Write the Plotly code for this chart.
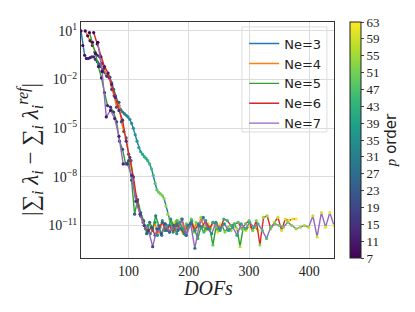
import plotly.graph_objects as go

# ---- data (log10 of error), p order from 7 to 63 ----
p_order = list(range(7, 64))
ne_values = [3, 4, 5, 6, 7]

log_err_ne3 = [1.0, 0.1, -0.5, -0.7, -0.7, -0.65, -0.6, -0.6, -0.75, -0.9,
               -1.05, -1.2, -1.4, -1.55, -1.7, -1.8, -1.85, -2.2, -2.6, -3.0,
               -3.35, -3.6, -3.85, -4.0, -4.1, -4.2, -4.3, -4.45, -4.7, -5.0,
               -5.4, -5.8, -6.2, -6.45, -6.6, -6.75, -6.85, -7.0, -7.2, -7.5,
               -7.9, -8.4, -8.8, -8.95, -9.05, -9.15, -9.35, -9.8, -10.3, -10.6,
               -10.9, -11.3, -10.8, -11.2, -10.7, -11.0, -11.4]
log_err_ne4 = [1.0, 0.7, 0.4, 0.1, -0.3, -0.5, -0.6, -1.0, -1.3, -1.8,
               -1.9, -2.6, -3.0, -3.7, -3.4, -4.6, -5.2, -5.6, -6.6, -7.0,
               -8.4, -9.2, -9.8, -10.4, -10.8, -11.2, -11.0, -11.5, -11.3, -10.8,
               -11.6, -11.1, -10.7, -11.3, -11.0, -11.4, -10.9, -11.2, -10.7, -11.1,
               -10.6, -11.3, -10.9, -11.0, -10.6, -11.4, -10.8, -11.1, -10.5, -11.0,
               -11.3, -10.9, -11.2, -10.8, -11.0, -11.4, -10.9]
log_err_ne5 = [0.9, 0.3, -0.4, -1.2, -1.9, -2.8, -3.6, -3.7, -4.0, -4.6,
               -5.8, -6.3, -7.2, -7.0, -8.2, -10.3, -9.4, -10.2, -10.7, -11.5,
               -10.8, -11.2, -10.4, -11.0, -11.6, -10.9, -11.3, -10.6, -11.1, -11.5,
               -10.8, -11.2, -11.6, -11.0, -10.7, -11.3, -11.8, -11.1, -11.4, -11.0,
               -11.2, -12.2, -11.1, -11.3, -11.0, -11.4, -11.1, -11.3, -10.9, -11.2,
               -12.3, -11.2, -11.3, -11.0, -11.2, -11.1, -11.3]
log_err_ne6 = [0.9, 0.2, -0.6, -1.2, -1.6, -2.3, -3.1, -3.9, -4.5, -5.8,
               -6.8, -8.0, -9.5, -10.4, -11.0, -11.4, -11.1, -11.6, -11.2, -10.8,
               -11.3, -11.0, -11.4, -10.9, -11.2, -11.5, -11.0, -10.8, -11.3, -10.9,
               -11.1, -10.7, -11.2, -10.8, -10.9, -11.3, -10.6, -10.7, -11.0, -10.9,
               -10.8, -11.2, -10.9, -10.7, -11.3, -10.7, -12.2, -10.5, -10.4, -11.2,
               -10.8, -10.5, -11.3, -10.6, -10.7, -10.6, -10.6]
log_err_ne7 = [0.3, -1.5, -4.3, -3.9, -4.4, -5.5, -7.2, -7.2, -7.9, -9.5,
               -10.3, -11.0, -11.3, -12.3, -11.2, -11.5, -10.9, -11.4, -11.0, -11.3,
               -10.6, -11.6, -10.9, -12.4, -11.0, -10.5, -11.2, -11.5, -10.8, -11.2,
               -10.9, -11.3, -11.1, -11.6, -10.9, -11.2, -10.8, -11.1, -10.9, -11.3,
               -11.8, -11.1, -10.9, -11.0, -11.1, -10.8, -11.0, -11.2, -11.1, -11.0,
               -11.1, -10.4, -11.7, -10.2, -11.1, -10.2, -11.0]

series = [log_err_ne3, log_err_ne4, log_err_ne5, log_err_ne6, log_err_ne7]
line_colors = ["#1f77b4", "#ff7f0e", "#2ca02c", "#d62728", "#9467bd"]

y_tickvals = [1e1, 1e-2, 1e-5, 1e-8, 1e-11]
y_ticktext = ["10<sup>1</sup>", "10<sup>\u22122</sup>", "10<sup>\u22125</sup>",
              "10<sup>\u22128</sup>", "10<sup>\u221211</sup>"]
x_tickvals = [100, 200, 300, 400]
cbar_ticks = list(range(7, 64, 4))

SERIF = "Liberation Serif"
SANS = "DejaVu Sans"

fig = go.Figure()
for ne, logs, col in zip(ne_values, series, line_colors):
    dofs = [ne * p for p in p_order]
    vals = [10 ** v for v in logs]
    fig.add_trace(go.Scatter(x=dofs, y=vals, mode="lines", name=f"Ne={ne}",
                             line=dict(color=col, width=1.4)))
    fig.add_trace(go.Scatter(x=dofs, y=vals, mode="markers", showlegend=False,
                             marker=dict(size=3.2, color=p_order, colorscale="Viridis",
                                         cmin=7, cmax=63, line=dict(width=0),
                                         showscale=(ne == 3),
                                         colorbar=dict(
                                             x=1.063, xanchor="left", y=0.5, yanchor="middle",
                                             len=1.0, lenmode="fraction", thickness=11,
                                             xpad=0, ypad=0,
                                             outlinewidth=1, outlinecolor="#222",
                                             tickvals=cbar_ticks, ticks="outside", ticklen=3,
                                             tickfont=dict(family=SERIF, size=13, color="#222"),
                                             title=dict(text="<span style='font-family:Liberation Serif;font-style:italic'>p</span> order",
                                                        side="right",
                                                        font=dict(family=SANS, size=15, color="#222")),
                                         ))))

# page body adds an 8px offset; the figure is sized so the plot area lands at page px 81-334 x 22-258
fig.update_layout(
    width=407, height=304,
    margin=dict(l=73, r=81, t=14, b=54, autoexpand=False),
    plot_bgcolor="white", paper_bgcolor="white",
    showlegend=True,
    legend=dict(x=0.645, y=0.972, xanchor="left", yanchor="top",
                bgcolor="rgba(0,0,0,0)", borderwidth=0,
                font=dict(family=SANS, size=13, color="#222"), tracegroupgap=0,
                itemwidth=30),
)
fig.add_shape(type="rect", xref="paper", yref="paper", x0=0.636, x1=0.972, y0=0.534, y1=0.979,
              fillcolor="rgba(255,255,255,0.85)", line=dict(color="#dddddd", width=1), layer="between")

fig.update_xaxes(range=[21, 441], tickvals=x_tickvals, showgrid=True, gridcolor="#dcdcdc",
                 gridwidth=1, showline=True, linecolor="#333", linewidth=1, mirror=True,
                 ticks="", tickfont=dict(family=SERIF, size=14, color="#222"), zeroline=False)
fig.update_yaxes(type="log", range=[-13.0, 1.55], tickvals=y_tickvals, ticktext=y_ticktext,
                 showgrid=True, gridcolor="#dcdcdc", gridwidth=1, showline=True,
                 linecolor="#333", linewidth=1, mirror=True, ticks="",
                 tickfont=dict(family=SERIF, size=14, color="#222"))

fig.add_annotation(text="<i>DOFs</i>", xref="paper", yref="paper", x=0.5, y=-0.127,
                   xanchor="center", yanchor="middle", showarrow=False,
                   font=dict(family=SERIF, size=20, color="#222"))
fig.add_annotation(text="|\u2211<sub><i>i</i></sub> <i>\u03bb<sub>i</sub></i> \u2212 \u2211<sub><i>i</i></sub> <i>\u03bb<sub>i</sub><sup>ref</sup></i>|",
                   xref="paper", yref="paper", x=-0.2016, y=0.462, xanchor="center", yanchor="middle",
                   textangle=-90, showarrow=False,
                   font=dict(family=SERIF, size=23, color="#222"))

fig.write_html("out.html")
